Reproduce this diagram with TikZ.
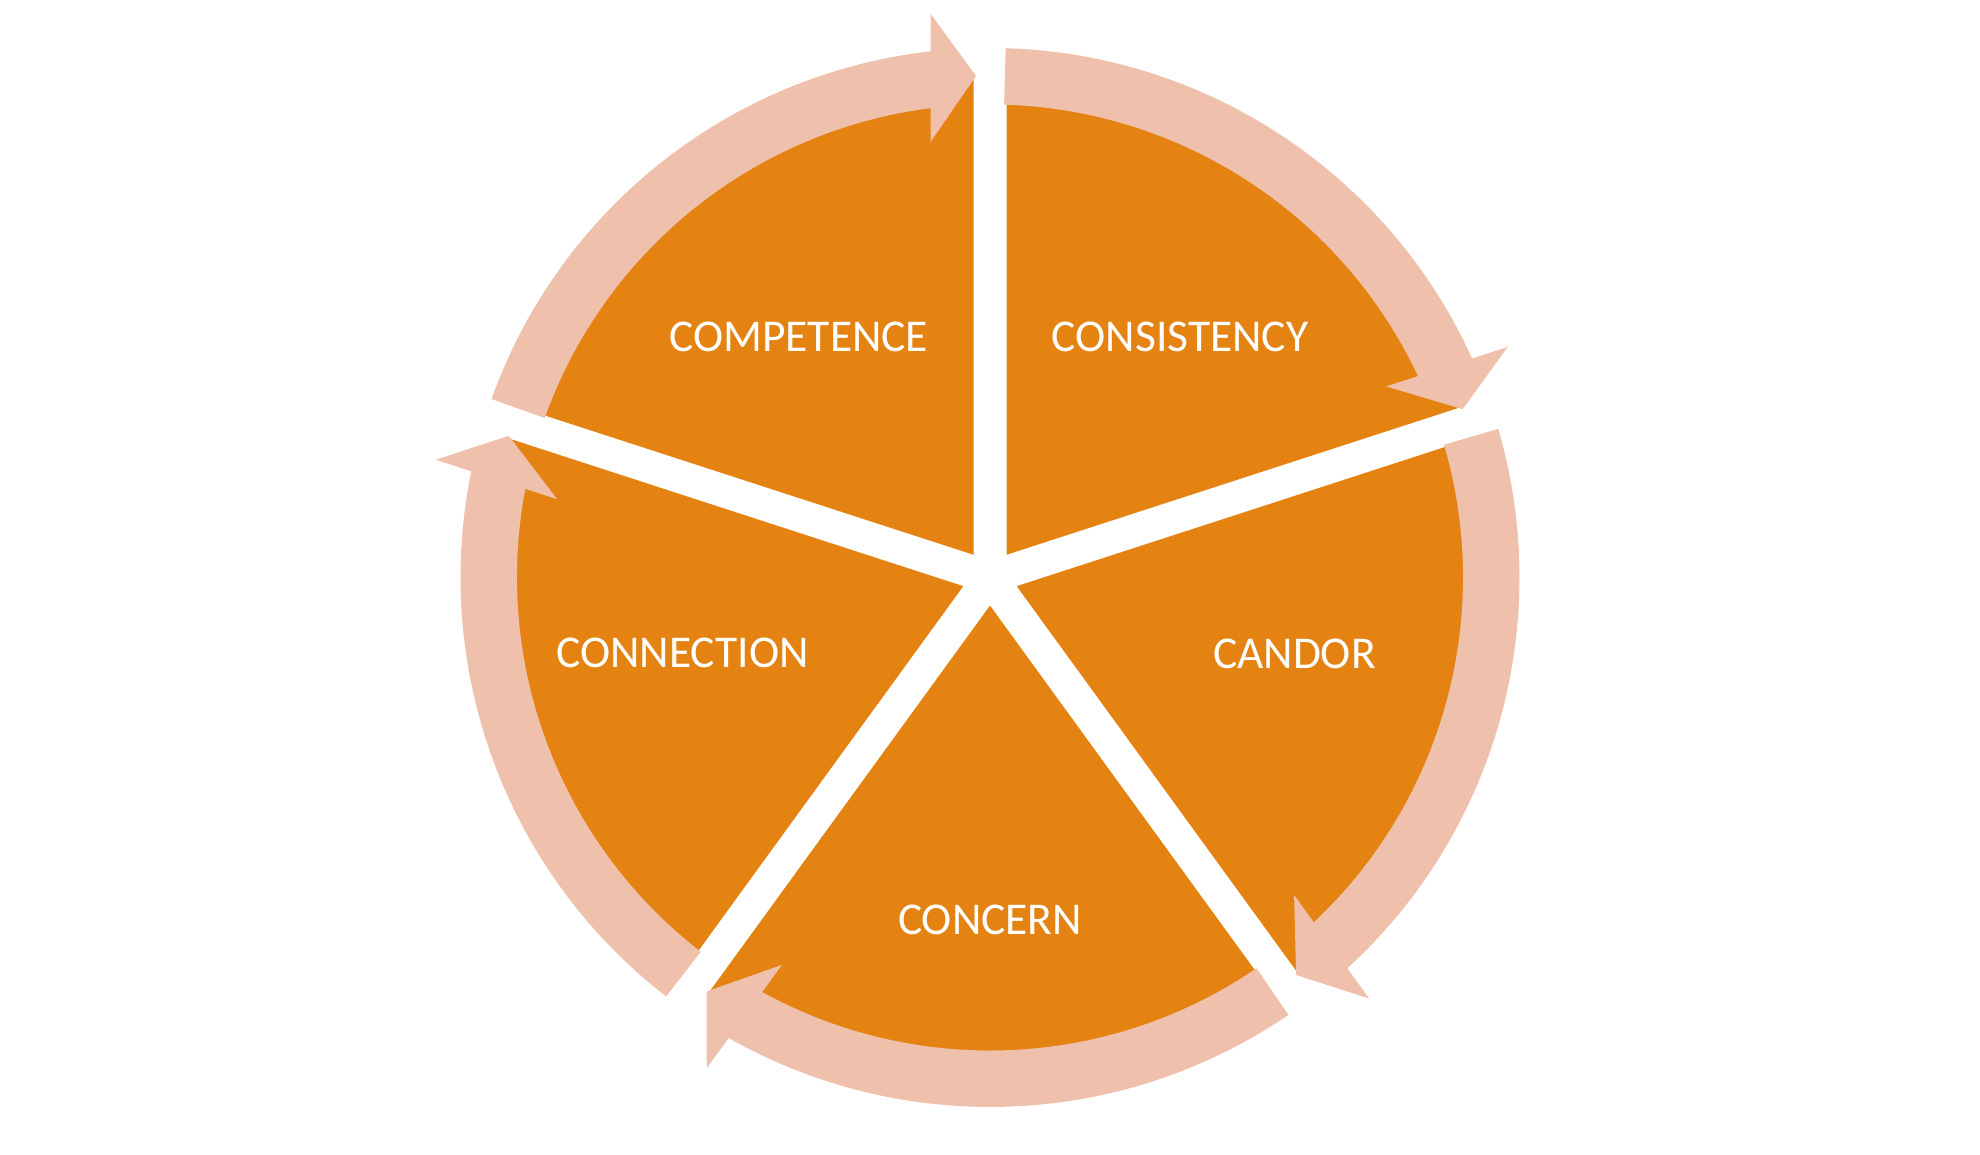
\documentclass[tikz,border=0pt]{standalone}
\usepackage{fontspec}
\setmainfont{Carlito}
\definecolor{secorange}{RGB}{228,131,18}
\definecolor{arrowpink}{RGB}{239,192,172}
\tikzset{
  sector/.style={fill=secorange, draw=none},
  cyclearrow/.style={fill=arrowpink, draw=none},
  seglabel/.style={text=white, font=\fontsize{45.5}{54}\selectfont, inner sep=0pt}
}
\begin{document}
\begin{tikzpicture}[x=1pt,y=1pt]
\useasboundingbox (0,0) rectangle (1980,1155);
\coordinate (O) at (990,577.5);
% pie sectors
\foreach \k in {0,...,4}{
  \begin{scope}[shift={(O)}, rotate=-72*\k]
    \fill[sector] (54:28.07) -- (88.113:501) arc[start angle=88.113, end angle=19.887, radius=501pt] -- cycle;
  \end{scope}
}
% circular arrows
\foreach \k in {0,...,4}{
  \begin{scope}[shift={(O)}, rotate=-72*\k]
    \fill[cyclearrow] (160.3:529.5) arc[start angle=160.3, end angle=96.43, radius=529.5pt]
      -- (-59.3,563.5) -- (-14,501.5) -- (-59.3,435.8) -- (-59.3,469.3)
      arc[start angle=97.2, end angle=160.3, radius=473pt] -- cycle;
  \end{scope}
}
% labels
\node[seglabel] (competence)  at (798.7,818.5) {COMPETENCE};
\node[seglabel] (consistency) at (1180,818.5)  {CONSISTENCY};
\node[seglabel] (candor)      at (1294.4,501)  {CANDOR};
\node[seglabel] (connection)  at (682.5,502)   {CONNECTION};
\node[seglabel] (concern)     at (990,235)     {CONCERN};
\end{tikzpicture}
\end{document}
